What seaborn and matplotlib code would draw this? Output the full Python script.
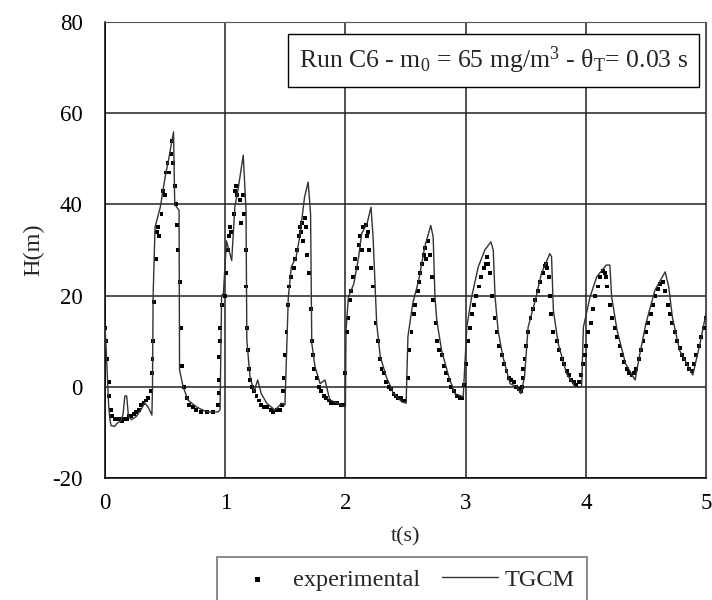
import numpy as np
import pandas as pd
import matplotlib
matplotlib.use("Agg")
import matplotlib.pyplot as plt
import seaborn as sns

sns.set_style("white")
plt.rcParams['font.family'] = ['Liberation Serif', 'DejaVu Serif']
plt.rcParams['mathtext.fontset'] = 'custom'
plt.rcParams['mathtext.rm'] = 'Liberation Serif'
plt.rcParams['mathtext.it'] = 'Liberation Serif:italic'
plt.rcParams['axes.unicode_minus'] = False

# TGCM simulated head
tgcm_t = [0.0, 0.01, 0.02, 0.03, 0.04, 0.05, 0.08, 0.10, 0.13, 0.15, 0.165, 0.18, 0.195,
          0.22, 0.26, 0.30, 0.33, 0.36, 0.39, 0.395, 0.40, 0.416, 0.46, 0.50, 0.53, 0.57,
          0.58, 0.616, 0.62, 0.65, 0.69, 0.76, 0.845, 0.94, 0.957, 0.97, 0.985, 1.01,
          1.054, 1.08, 1.11, 1.15, 1.173, 1.18, 1.206, 1.24, 1.27, 1.30, 1.345, 1.414,
          1.47, 1.497, 1.525, 1.55, 1.59, 1.62, 1.66, 1.69, 1.71, 1.72, 1.747, 1.79,
          1.83, 1.87, 1.94, 2.0, 2.005, 2.025, 2.07, 2.11, 2.135, 2.18, 2.213, 2.23,
          2.26, 2.29, 2.34, 2.40, 2.47, 2.505, 2.52, 2.56, 2.61, 2.66, 2.71, 2.73,
          2.745, 2.76, 2.80, 2.86, 2.91, 2.98, 3.01, 3.05, 3.105, 3.16, 3.21, 3.23,
          3.245, 3.27, 3.31, 3.37, 3.425, 3.46, 3.49, 3.52, 3.58, 3.63, 3.70, 3.715,
          3.73, 3.77, 3.84, 3.91, 3.965, 3.98, 4.035, 4.09, 4.17, 4.20, 4.215, 4.26,
          4.33, 4.41, 4.45, 4.50, 4.575, 4.66, 4.69, 4.72, 4.78, 4.89, 4.95, 5.0]
tgcm_h = [13, 8, 2, -4, -7, -8.5, -8.7, -8, -7.5, -6, -2, -2, -6.5,
          -7.2, -6.5, -5, -3.5, -4.5, -6.2, 0, 19.7, 35, 39.4, 46, 50, 55.9,
          40, 38.7, 3.7, 0, -2.9, -4.4, -5.5, -5.5, -5, 20, 20.5, 32,
          27.7, 39.4, 43.8, 50.8, 38.7, 10.2, 2.2, -1, 1.5, -1.5, -3.6, -5.1,
          -3.6, -4, 19.7, 26.3, 28.5, 32.9, 41.6, 44.9, 38, 9.6, 4.4, 0.7,
          1.5, -2.9, -3.6, -4.4, 12.4, 19.7, 22.6, 28.5, 33.6, 35.8, 39.4, 32.9,
          13.9, 6.6, 2.2, -1.5, -3.3, -3.6, 11, 18.3, 23.4, 30.7, 35.4, 32.9,
          19.7, 14.6, 8, 2.2, -1.5, -2.2, 13.1, 19.7, 26.3, 30, 31.8, 30,
          19.7, 12.4, 6.6, 0.7, 0, -1.5, 2.2, 13.1, 19, 24.8, 29.2, 28.5,
          16.8, 9.5, 2.9, 0, 0, 13.1, 19.7, 24.1, 26.7, 26.7, 19.7, 12.4,
          5.1, 1.5, 7.3, 13.9, 21.2, 25.2, 21.9, 15.3, 8, 2.6, 9.5, 16.1]

# experimental points
exp_t = [0.0, 0.01, 0.02, 0.03, 0.035, 0.05, 0.06, 0.08, 0.10, 0.12, 0.14, 0.16, 0.18, 0.20,
         0.22, 0.24, 0.26, 0.28, 0.30, 0.32, 0.34, 0.36, 0.38, 0.39, 0.395, 0.40, 0.41,
         0.425, 0.43, 0.44, 0.45, 0.47, 0.48, 0.50, 0.51, 0.52, 0.53, 0.55, 0.56, 0.565,
         0.58, 0.59, 0.60, 0.605, 0.625, 0.63, 0.64, 0.66, 0.68, 0.70, 0.73, 0.76, 0.80,
         0.85, 0.90, 0.94, 0.945, 0.948, 0.95, 0.955, 0.96, 0.97,
         1.0, 1.01, 1.02, 1.03, 1.04, 1.05, 1.07, 1.08, 1.09, 1.10, 1.12, 1.13, 1.15,
         1.16, 1.17, 1.175, 1.185, 1.19, 1.2, 1.21, 1.22, 1.24, 1.26, 1.28, 1.30, 1.32,
         1.35, 1.38, 1.40, 1.43, 1.46, 1.475, 1.48, 1.485, 1.50, 1.51, 1.52, 1.53, 1.55,
         1.57, 1.58, 1.60, 1.61, 1.62, 1.63, 1.64, 1.65, 1.66, 1.67, 1.68, 1.70, 1.71,
         1.72, 1.73, 1.74, 1.76, 1.78, 1.80, 1.82, 1.84, 1.86, 1.88, 1.90, 1.93, 1.96,
         1.99, 2.0, 2.01, 2.02, 2.035, 2.05, 2.06, 2.08, 2.10, 2.11, 2.12, 2.14, 2.15,
         2.17, 2.18, 2.19, 2.20, 2.21, 2.23, 2.25, 2.27, 2.29, 2.30, 2.32, 2.34, 2.36,
         2.38, 2.40, 2.42, 2.44, 2.46, 2.48, 2.50, 2.52, 2.53, 2.55, 2.57, 2.58, 2.60,
         2.61, 2.62, 2.64, 2.65, 2.66, 2.67, 2.69, 2.70, 2.72, 2.73, 2.75, 2.76, 2.78,
         2.80, 2.82, 2.84, 2.86, 2.88, 2.90, 2.93, 2.95, 2.97, 2.99, 3.0, 3.02, 3.04,
         3.05, 3.07, 3.09, 3.11, 3.13, 3.15, 3.17, 3.18, 3.19, 3.20, 3.22, 3.24, 3.26,
         3.28, 3.30, 3.32, 3.34, 3.36, 3.38, 3.40, 3.42, 3.44, 3.46, 3.47, 3.475, 3.48,
         3.49, 3.50, 3.52, 3.54, 3.56, 3.58, 3.60, 3.62, 3.64, 3.66, 3.67, 3.68, 3.69,
         3.70, 3.71, 3.73, 3.76, 3.78, 3.80, 3.82, 3.84, 3.86, 3.88, 3.90, 3.92, 3.94,
         3.96, 3.98, 3.99, 4.0, 4.02, 4.04, 4.06, 4.08, 4.10, 4.12, 4.14, 4.16, 4.17,
         4.18, 4.20, 4.22, 4.24, 4.26, 4.28, 4.30, 4.32, 4.34, 4.36, 4.38, 4.40, 4.42,
         4.44, 4.46, 4.48, 4.50, 4.52, 4.54, 4.56, 4.58, 4.60, 4.62, 4.64, 4.66, 4.68,
         4.70, 4.72, 4.74, 4.76, 4.78, 4.80, 4.82, 4.84, 4.86, 4.88, 4.90, 4.92, 4.94,
         4.96, 4.98, 5.0]
exp_h = [13, 10, 6, 1, -2, -5, -6.5, -7, -7, -7, -7.5, -7, -7, -6.5,
         -6.5, -6, -5.5, -5, -4, -3.5, -3, -2.5, -1, 3, 6, 10, 18.5,
         28, 34, 35, 33, 38, 43, 42, 47, 49, 47, 51, 54, 49,
         44, 40, 35.5, 30, 23, 13, 4.5, 0, -2.5, -4, -4.5, -5, -5.5,
         -5.5, -5.5, -4, -1.4, 1.5, 6.6, 10, 12.9, 18,
         20, 25, 30, 33, 35, 34, 38, 43, 44, 42, 41, 36, 42,
         38, 30, 22, 13, 8, 4, 1.5, 0, -1, -2, -3, -4, -4.5,
         -4.5, -5, -5.5, -5, -5, -4, -1, 2, 7, 12, 18, 22, 24,
         26, 28, 30, 33, 35, 34, 36, 32, 37, 35, 29, 25, 17,
         10, 7, 4, 2, 0, -1, -2, -2.5, -3, -3.5, -3.5, -3.5, -4,
         -4, 3, 12, 15, 19, 21, 24, 28, 26, 31, 33, 30, 35,
         35.5, 33, 34, 30, 26, 22, 14, 10, 6, 4, 3, 1, 0,
         -0.5, -1.5, -2, -2.5, -2.5, -3, -3, 2, 8, 12, 16, 18, 21,
         23, 25, 27, 29, 30.5, 28, 32, 29, 24, 19, 14, 10, 8,
         7, 4.5, 3, 1.5, 0, -1, -2, -2.5, -2.5, 0.5, 5, 10, 13,
         16, 18, 20, 22, 24, 26, 27, 28.5, 27, 25, 20, 15, 12,
         9, 7, 5, 3.5, 2, 1.5, 1, 0, -0.5, -1, 0, 2, 4,
         6, 9, 12, 15, 17, 19, 21, 23, 25, 26.5, 27, 26, 24,
         20, 16, 12, 10, 8, 6, 5, 3.5, 2.5, 1.5, 1, 0.5, 1,
         2.5, 5, 7, 9, 12, 14, 17, 20, 22, 24, 25.5, 25, 24,
         22, 18, 15, 13, 11, 9, 7, 5.5, 4, 3, 2.5, 3, 4,
         6, 8, 10, 12, 14, 16, 18, 20, 21.5, 22.5, 23, 21, 18,
         16, 14, 12, 10, 8.5, 7, 6, 5, 4, 3.5, 5, 7, 9,
         11, 13, 15]

tgcm = pd.DataFrame({'t': tgcm_t, 'H': tgcm_h})
expdf = pd.DataFrame({'t': exp_t, 'H': exp_h})

fig = plt.figure(figsize=(7.12, 6.0), dpi=100)
ax = fig.add_axes([0.1475, 0.2033, 0.8441, 0.76])

sns.scatterplot(data=expdf, x='t', y='H', ax=ax, marker='s', s=8, color='black',
                edgecolor='none', label='experimental', zorder=3)
sns.lineplot(data=tgcm, x='t', y='H', ax=ax, color='#333333', linewidth=1.0,
             estimator=None, sort=False, label='TGCM', zorder=4)

ax.set_xlim(0, 5)
ax.set_ylim(-20, 80)
ax.set_xticks(range(0, 6))
ax.set_yticks(range(-20, 81, 20))
ax.grid(True, color='#222222', linewidth=1.1)
ax.set_axisbelow(True)
for s in ['top', 'right']:
    ax.spines[s].set_color('#555555')
for s in ['left', 'bottom']:
    ax.spines[s].set_color('black')
    ax.spines[s].set_linewidth(1.1)
ax.tick_params(direction='out', length=6, width=1, colors='black', labelsize=16.5)
ax.tick_params(axis='y', pad=10)
ax.tick_params(axis='x', pad=5)
ax.set_xlabel('t(s)', fontsize=16, labelpad=9)
ax.set_ylabel('H(m)', fontsize=17.5, labelpad=6)

ax.text(0.97, 0.916, r'Run C6 - m$_0$ = 65 mg/m$^3$ - θ$_\mathrm{T}$= 0.03 s',
        transform=ax.transAxes, ha='right', va='center', fontsize=18.5,
        bbox=dict(boxstyle='square,pad=0.42', facecolor='white', edgecolor='black', linewidth=1))

ax.get_legend().remove()
h, l = ax.get_legend_handles_labels()
leg = fig.legend(h, l, loc='upper center', bbox_to_anchor=(0.565, 0.072), ncol=2,
                 fontsize=17.5, frameon=True, fancybox=False, edgecolor='#555555',
                 handlelength=2.3, handletextpad=0.3, columnspacing=0.9,
                 borderpad=0.5, markerscale=1.3, borderaxespad=0)
leg.get_frame().set_linewidth(1.2)

fig.savefig('out.png', dpi=100)
